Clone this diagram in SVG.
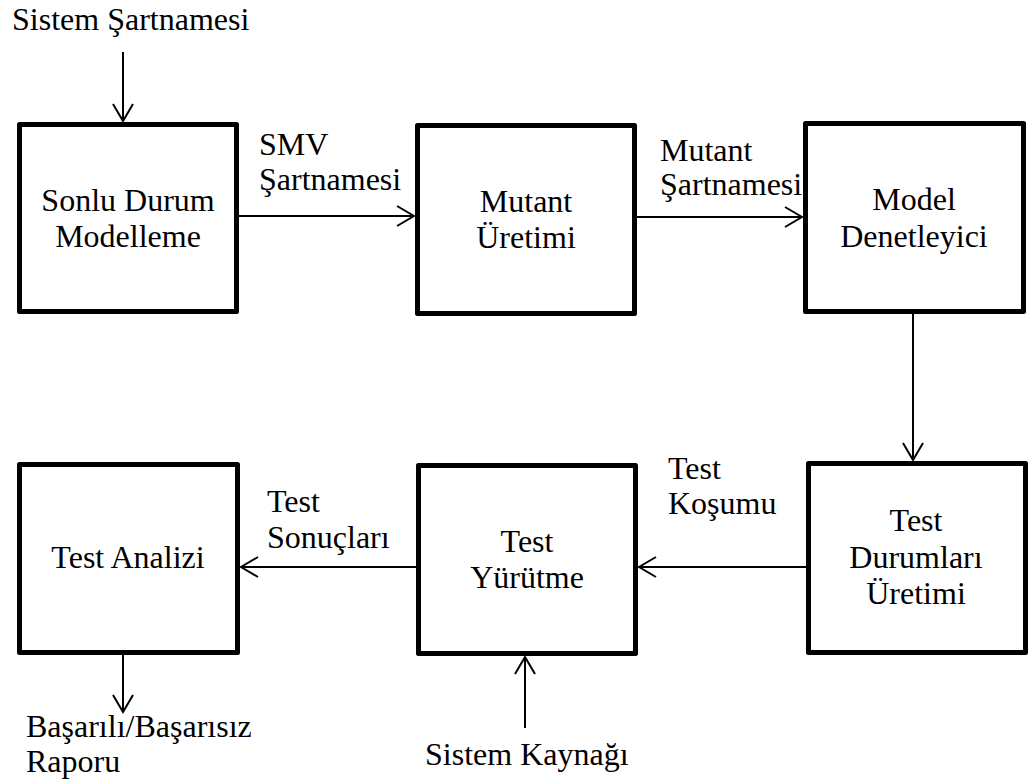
<svg xmlns="http://www.w3.org/2000/svg" width="1032" height="784" viewBox="0 0 1032 784">
<style>
.box{fill:#fff;stroke:#000;stroke-width:5;stroke-linejoin:round}
.t{font-family:"Liberation Serif","Times New Roman",serif;font-size:32px;fill:#000}
.c{text-anchor:middle}
.ln{stroke:#000;stroke-width:2;fill:none;marker-end:url(#ah)}
</style>
<defs>
<marker id="ah" markerUnits="userSpaceOnUse" markerWidth="24" markerHeight="24" viewBox="-20 -12 22 24" refX="0" refY="0" orient="auto">
<path d="M-17,-10 L0,0 L-17,10" fill="none" stroke="#000" stroke-width="2"/>
</marker>
</defs>
<rect width="1032" height="784" fill="#fff"/>
<g id="connectors">
<line class="ln" x1="123" y1="52" x2="123" y2="121"/>
<line class="ln" x1="239" y1="216" x2="414" y2="216"/>
<line class="ln" x1="637" y1="217" x2="802" y2="217"/>
<line class="ln" x1="913" y1="314" x2="913" y2="460"/>
<line class="ln" x1="806" y1="567" x2="639" y2="567"/>
<line class="ln" x1="416" y1="567" x2="241" y2="567"/>
<line class="ln" x1="123" y1="655" x2="123" y2="712"/>
<line class="ln" x1="525" y1="728" x2="525" y2="657"/>
<text class="t" x="12" y="30">Sistem Şartnamesi</text>
<text class="t" x="259" y="155">SMV</text>
<text class="t" x="259" y="190">Şartnamesi</text>
<text class="t" x="660" y="161">Mutant</text>
<text class="t" x="660" y="195">Şartnamesi</text>
<text class="t" x="668" y="479">Test</text>
<text class="t" x="668" y="514">Koşumu</text>
<text class="t" x="267" y="512">Test</text>
<text class="t" x="267" y="548">Sonuçları</text>
<text class="t" x="26" y="737">Başarılı/Başarısız</text>
<text class="t" x="26" y="772">Raporu</text>
<text class="t" x="425" y="765">Sistem Kaynağı</text>
</g>
<g id="n1">
<rect class="box" x="19.5" y="124.5" width="217" height="187"/>
<text class="t c" x="128" y="211">Sonlu Durum</text>
<text class="t c" x="128" y="247">Modelleme</text>
</g>
<g id="n2">
<rect class="box" x="417.5" y="125.5" width="217" height="188"/>
<text class="t c" x="526" y="212">Mutant</text>
<text class="t c" x="526" y="248">Üretimi</text>
</g>
<g id="n3">
<rect class="box" x="805.5" y="123.5" width="218" height="188"/>
<text class="t c" x="914" y="210">Model</text>
<text class="t c" x="914" y="247">Denetleyici</text>
</g>
<g id="n4">
<rect class="box" x="808.5" y="463.5" width="217" height="189"/>
<text class="t c" x="916" y="531">Test</text>
<text class="t c" x="916" y="568">Durumları</text>
<text class="t c" x="916" y="604">Üretimi</text>
</g>
<g id="n5">
<rect class="box" x="418.5" y="465.5" width="217" height="188"/>
<text class="t c" x="527" y="552">Test</text>
<text class="t c" x="527" y="588">Yürütme</text>
</g>
<g id="n6">
<rect class="box" x="19.5" y="464.5" width="218" height="188"/>
<text class="t c" x="128" y="568">Test Analizi</text>
</g>
</svg>
